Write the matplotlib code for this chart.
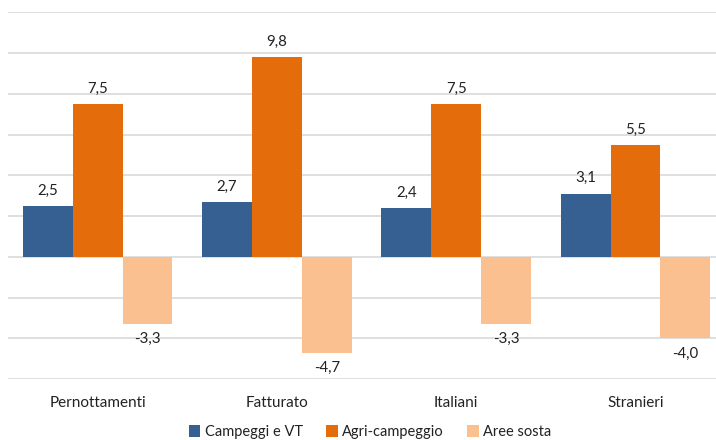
import matplotlib
matplotlib.use("Agg")
import matplotlib.pyplot as plt
import numpy as np

categories = ["Pernottamenti", "Fatturato", "Italiani", "Stranieri"]
series_names = ["Campeggi e VT", "Agri-campeggio", "Aree sosta"]
campeggi = [2.5, 2.7, 2.4, 3.1]
agri = [7.5, 9.8, 7.5, 5.5]
aree = [-3.3, -4.7, -3.3, -4.0]
colors = ["#376092", "#E46C0A", "#FAC090"]

plt.rcParams["font.family"] = ["Lato", "DejaVu Sans"]

W, H = 716, 440
fig = plt.figure(figsize=(W / 100, H / 100), dpi=100)
ax = fig.add_axes([8 / W, (H - 379) / H, 708 / W, (379 - 12.4) / H])

x = np.arange(len(categories))
bw = 0.278
offsets = [-bw, 0, bw]
for vals, off, col, name in zip([campeggi, agri, aree], offsets, colors, series_names):
    bars = ax.bar(x + off, vals, width=bw, color=col, label=name, zorder=3)
    for b, v in zip(bars, vals):
        cx = b.get_x() + b.get_width() / 2
        txt = f"{v:.1f}".replace(".", ",")
        if v >= 0:
            ax.annotate(txt, (cx, v), xytext=(0, 6), textcoords="offset points",
                        ha="center", va="bottom", fontsize=10.8, color="#222222")
        else:
            ax.annotate(txt, (cx, v), xytext=(0, -6), textcoords="offset points",
                        ha="center", va="top", fontsize=10.8, color="#222222")

ax.set_xlim(-0.5, 3.449)
ax.set_ylim(-6, 12)
ax.set_yticks(np.arange(-6, 13, 2))
ax.yaxis.grid(True, color="#D9D9D9", linewidth=1.2, zorder=0)
ax.tick_params(axis="y", left=False, labelleft=False)
ax.tick_params(axis="x", bottom=False, labelsize=11, colors="#222222", pad=9)
ax.set_xticks(x)
ax.set_xticklabels(categories)
for s in ax.spines.values():
    s.set_visible(False)

fig.legend(loc="center", bbox_to_anchor=(370 / W, 1 - 432 / H), ncol=3,
           frameon=False, fontsize=10.5, handlelength=0.8, handleheight=0.8,
           handletextpad=0.3, columnspacing=1.6, labelcolor="#222222")

fig.savefig("out.png", dpi=100)
